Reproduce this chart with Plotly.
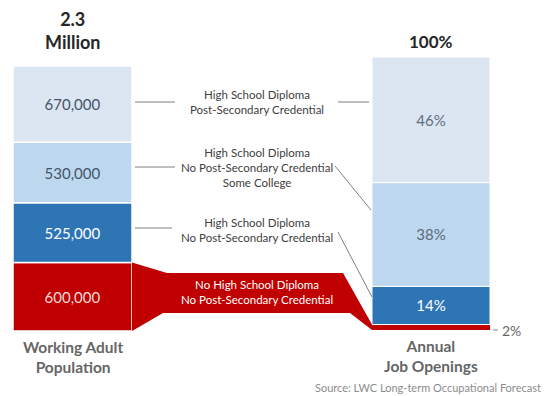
import plotly.graph_objects as go

# Working adult population by education level (bottom to top)
pop_groups = ["No HS Diploma", "HS Diploma, no credential", "Some College", "Post-Secondary Credential"]
pop_values = [600000, 525000, 530000, 670000]
pop_labels = ["600,000", "525,000", "530,000", "670,000"]

# Share of annual job openings, same order
job_values = [2, 14, 38, 46]
job_labels = ["", "14%", "38%", "46%"]

seg_colors = ["#c00000", "#2e75b6", "#bdd7ee", "#dce6f2"]
pop_text_colors = ["#f6dada", "#ffffff", "#44546a", "#44546a"]
job_text_colors = ["#ffffff", "#ffffff", "#5a6a7c", "#5f6f80"]

group_texts = [
    "No High School Diploma<br>No Post-Secondary Credential",
    "High School Diploma<br>No Post-Secondary Credential",
    "High School Diploma<br>No Post-Secondary Credential<br>Some College",
    "High School Diploma<br>Post-Secondary Credential",
]

W, H = 545, 396
FONT = "Lato"

# Page layout (pixel units, y measured from the top)
LX, RX = 72.5, 431.0
LW, RW = 119.0, 118.0
L_BOTTOM, L_HEIGHT = 331.0, 265.0
R_BOTTOM, R_HEIGHT = 330.0, 273.0

pop_total = sum(pop_values)
l_k = pop_total / L_HEIGHT          # people per pixel
r_k = sum(job_values) / R_HEIGHT    # percent per pixel

def pop_px(v):
    return L_BOTTOM - v / l_k

def job_px(v):
    return R_BOTTOM - v / r_k

fig = go.Figure()

# Stacked segments drawn with explicit bases
base = 0
for val, lab, col, tc in zip(pop_values, pop_labels, seg_colors, pop_text_colors):
    fig.add_trace(go.Bar(
        x=[LX], y=[val], base=[base], width=[LW], yaxis="y",
        marker=dict(color=col, line=dict(color="white", width=1.5)),
        text=[lab], textposition="inside", insidetextanchor="middle", textangle=0,
        textfont=dict(family=FONT, size=15, color=tc), hoverinfo="skip", showlegend=False,
    ))
    base += val

base = 0
for val, lab, col, tc in zip(job_values, job_labels, seg_colors, job_text_colors):
    fig.add_trace(go.Bar(
        x=[RX], y=[val], base=[base], width=[RW], yaxis="y2",
        marker=dict(color=col, line=dict(color="white", width=1.0 if val > 5 else 0)),
        text=[lab], textposition="inside", insidetextanchor="middle", textangle=0,
        textfont=dict(family=FONT, size=15, color=tc), hoverinfo="skip", showlegend=False,
    ))
    base += val

# Red flow band linking the two "no diploma" segments
l_edge = LX + LW / 2
r_edge = RX - RW / 2
band_x = [l_edge, 167, 343, r_edge, r_edge, 350, 163, l_edge, l_edge]
band_y = [pop_px(pop_values[0]), 273, 273, job_px(job_values[0]), job_px(0),
          313, 313, pop_px(0), pop_px(pop_values[0])]
fig.add_trace(go.Scatter(
    x=band_x, y=band_y, yaxis="y3", mode="lines", fill="toself",
    fillcolor="#c00000", line=dict(color="#c00000", width=0),
    hoverinfo="skip", showlegend=False,
))

shapes = []
def seg(x0, y0, x1, y1, color="#7f7f7f"):
    shapes.append(dict(type="line", xref="x", yref="y3", x0=x0, y0=y0, x1=x1, y1=y1,
                       line=dict(color=color, width=1)))

# Leader lines
seg(135, 102, 175, 102)
seg(338, 102, 369, 102)
seg(135, 167, 175, 167)
seg(335, 166, 371, 210)
seg(135, 228, 172, 228)
seg(338, 232, 372, 297)
seg(493, 330, 498, 330, "#8c8c8c")

annotations = []
def label(x, y, text, size, color, bold=False, xanchor="center", yanchor="middle"):
    annotations.append(dict(
        x=x, y=y, xref="x", yref="y3", text=f"<b>{text}</b>" if bold else text,
        showarrow=False, xanchor=xanchor, yanchor=yanchor, align="center",
        font=dict(family=FONT, size=size, color=color),
    ))

# Group descriptions between the bars
label(257, 102, group_texts[3], 11.5, "#404040")
label(257, 167, group_texts[2], 11.5, "#404040")
label(257, 230, group_texts[1], 11.5, "#404040")
label(257, 292, group_texts[0], 11.5, "#ffffff")

# Headers and footers
label(LX, 30, "2.3<br>Million", 18, "#262626", bold=True)
label(RX, 41, "100%", 17, "#262626", bold=True)
label(LX, 357, "Working Adult<br>Population", 15.5, "#666666", bold=True)
label(RX, 356, "Annual<br>Job Openings", 15.5, "#666666", bold=True)
label(500, 330, "2%", 14, "#666666", xanchor="left")
label(543, 387, "Source: LWC Long-term Occupational Forecast", 11, "#8c8c8c", xanchor="right")

# Axis ranges so that both bars sit on their own scales
l_lo = -(H - L_BOTTOM) * l_k
l_hi = L_BOTTOM * l_k
r_lo = -(H - R_BOTTOM) * r_k
r_hi = R_BOTTOM * r_k

hidden = dict(visible=False, showgrid=False, zeroline=False, fixedrange=True)
fig.update_layout(
    width=W, height=H, margin=dict(l=0, r=0, t=0, b=0),
    paper_bgcolor="white", plot_bgcolor="white", barmode="overlay",
    xaxis=dict(range=[0, W], domain=[0, 1], **hidden),
    yaxis=dict(range=[l_lo, l_hi], domain=[0, 1], **hidden),
    yaxis2=dict(range=[r_lo, r_hi], overlaying="y", **hidden),
    yaxis3=dict(range=[H, 0], overlaying="y", **hidden),
    shapes=shapes, annotations=annotations,
    uniformtext=dict(mode=False),
)

fig.write_html("out.html")
